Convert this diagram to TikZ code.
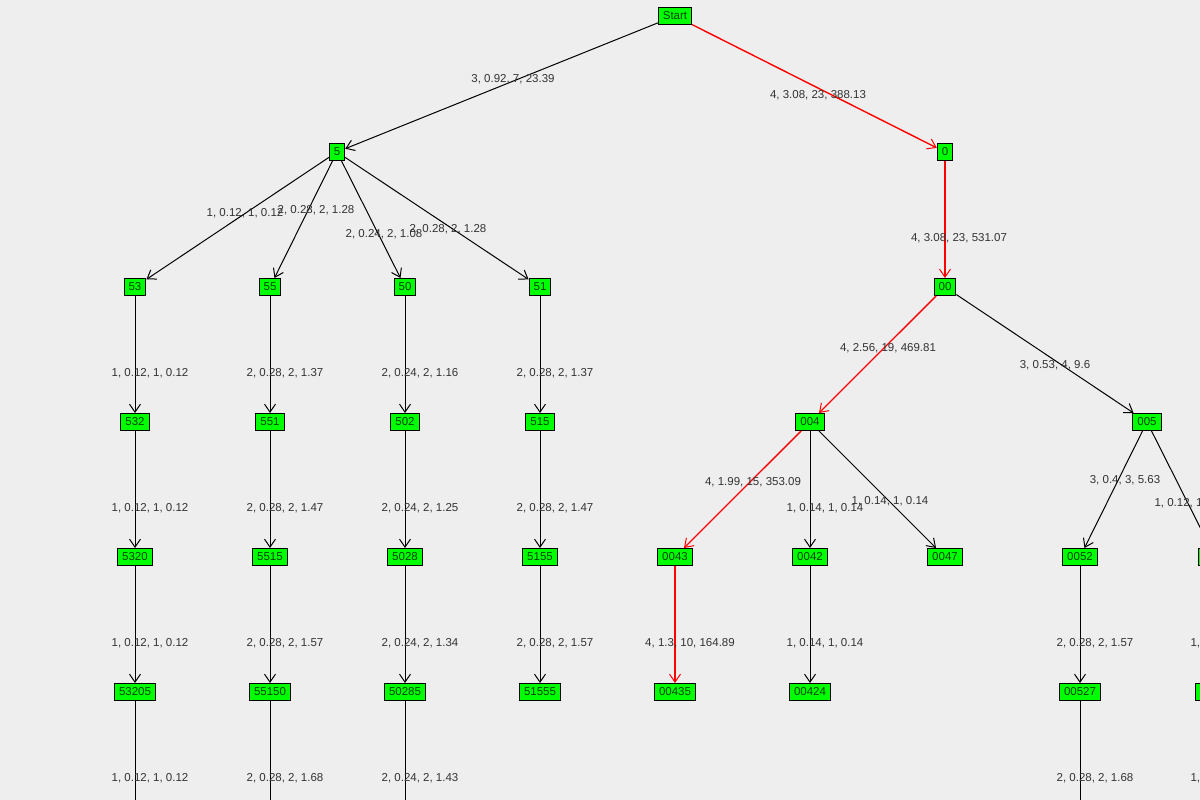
\documentclass[tikz,border=0pt]{standalone}
\usepackage{fontspec}
\setmainfont{Liberation Sans}
\usetikzlibrary{arrows.meta}
\definecolor{bg}{HTML}{EEEEEE}
\definecolor{lbl}{HTML}{333333}
\begin{document}
\begin{tikzpicture}[x=1pt,y=-1pt,line width=1pt,
  nd/.style={draw=black,fill=green,inner xsep=4.5pt,inner ysep=1.5pt,minimum height=17pt,minimum width=12pt,font=\fontsize{11.5}{11}\selectfont,text=black!75!green},
  ed/.style={draw=black,-{Straight Barb[length=8pt,width=11pt,line width=1pt]}},
  hot/.style={draw=red,line width=1.4pt},
  lb/.style={text=lbl,font=\fontsize{11.5}{12}\selectfont,inner sep=0pt}]
\fill[bg] (0,0) rectangle (1200,800);
\clip (0,0) rectangle (1200,800);
\node[nd] (S) at (675,16) {Start};
\node[nd] (n5) at (337,152) {5};
\node[nd] (n0) at (945,152) {0};
\node[nd] (n53) at (135,287) {53};
\node[nd] (n55) at (270,287) {55};
\node[nd] (n50) at (405,287) {50};
\node[nd] (n51) at (540,287) {51};
\node[nd] (n00) at (945,287) {00};
\node[nd] (n532) at (135,422) {532};
\node[nd] (n551) at (270,422) {551};
\node[nd] (n502) at (405,422) {502};
\node[nd] (n515) at (540,422) {515};
\node[nd] (n004) at (810,422) {004};
\node[nd] (n005) at (1147,422) {005};
\node[nd] (n5320) at (135,557) {5320};
\node[nd] (n5515) at (270,557) {5515};
\node[nd] (n5028) at (405,557) {5028};
\node[nd] (n5155) at (540,557) {5155};
\node[nd] (n0043) at (675,557) {0043};
\node[nd] (n0042) at (810,557) {0042};
\node[nd] (n0047) at (945,557) {0047};
\node[nd] (n0052) at (1080,557) {0052};
\node[nd,minimum width=34pt] (nR1) at (1215,557) {};
\node[nd] (n53205) at (135,692) {53205};
\node[nd] (n55150) at (270,692) {55150};
\node[nd] (n50285) at (405,692) {50285};
\node[nd] (n51555) at (540,692) {51555};
\node[nd] (n00435) at (675,692) {00435};
\node[nd] (n00424) at (810,692) {00424};
\node[nd] (n00527) at (1080,692) {00527};
\node[nd,minimum width=40pt] (nR2) at (1215,692) {};
\coordinate (b1) at (135,810);
\coordinate (b2) at (270,810);
\coordinate (b3) at (405,810);
\coordinate (b4) at (1080,810);
\coordinate (b5) at (1215,810);
% edges
\draw[ed] (S) -- (n5);
\draw[ed,hot] (S) -- (n0);
\draw[ed,hot] (n0) -- (n00);
\draw[ed,hot] (n00) -- (n004);
\draw[ed] (n00) -- (n005);
\draw[ed,hot] (n004) -- (n0043);
\draw[ed,hot] (n0043) -- (n00435);
\draw[ed] (n004) -- (n0042);
\draw[ed] (n004) -- (n0047);
\draw[ed] (n0042) -- (n00424);
\draw[ed] (n005) -- (n0052);
\draw[ed] (n005) -- (nR1);
\draw[ed] (n0052) -- (n00527);
\draw[ed] (nR1) -- (nR2);
\foreach \a/\b in {n5/n53,n5/n55,n5/n50,n5/n51,n53/n532,n55/n551,n50/n502,n51/n515,n532/n5320,n551/n5515,n502/n5028,n515/n5155,n5320/n53205,n5515/n55150,n5028/n50285,n5155/n51555}
  \draw[ed] (\a) -- (\b);
\draw (n53205) -- (b1);
\draw (n55150) -- (b2);
\draw (n50285) -- (b3);
\draw (n00527) -- (b4);
\draw (nR2) -- (b5);
% labels
\node[lb] at (513,79) {3, 0.92, 7, 23.39};
\node[lb] at (818,95) {4, 3.08, 23, 388.13};
\node[lb] at (245,213) {1, 0.12, 1, 0.12};
\node[lb] at (316,210) {2, 0.28, 2, 1.28};
\node[lb] at (384,234) {2, 0.24, 2, 1.08};
\node[lb] at (448,229) {2, 0.28, 2, 1.28};
\node[lb] at (959,238) {4, 3.08, 23, 531.07};
\node[lb] at (888,348) {4, 2.56, 19, 469.81};
\node[lb] at (1055,365) {3, 0.53, 4, 9.6};
\node[lb] at (753,482) {4, 1.99, 15, 353.09};
\node[lb] at (825,508) {1, 0.14, 1, 0.14};
\node[lb] at (890,501) {1, 0.14, 1, 0.14};
\node[lb] at (1125,480) {3, 0.4, 3, 5.63};
\node[lb,anchor=west] at (1154,503) {1, 0.12, 1, 0.12};
\node[lb] at (690,643) {4, 1.3, 10, 164.89};
\node[lb] at (825,643) {1, 0.14, 1, 0.14};
\node[lb] at (1095,643) {2, 0.28, 2, 1.57};
\node[lb] at (1095,778) {2, 0.28, 2, 1.68};
\node[lb,anchor=west] at (1190,643) {1, 0.12, 1, 0.12};
\node[lb,anchor=west] at (1190,778) {1, 0.12, 1, 0.12};
\foreach \y in {373,508,643,778} \node[lb] at (150,\y) {1, 0.12, 1, 0.12};
\foreach \y/\v in {373/1.37,508/1.47,643/1.57,778/1.68} \node[lb] at (285,\y) {2, 0.28, 2, \v};
\foreach \y/\v in {373/1.16,508/1.25,643/1.34,778/1.43} \node[lb] at (420,\y) {2, 0.24, 2, \v};
\foreach \y/\v in {373/1.37,508/1.47,643/1.57} \node[lb] at (555,\y) {2, 0.28, 2, \v};
\end{tikzpicture}
\end{document}
